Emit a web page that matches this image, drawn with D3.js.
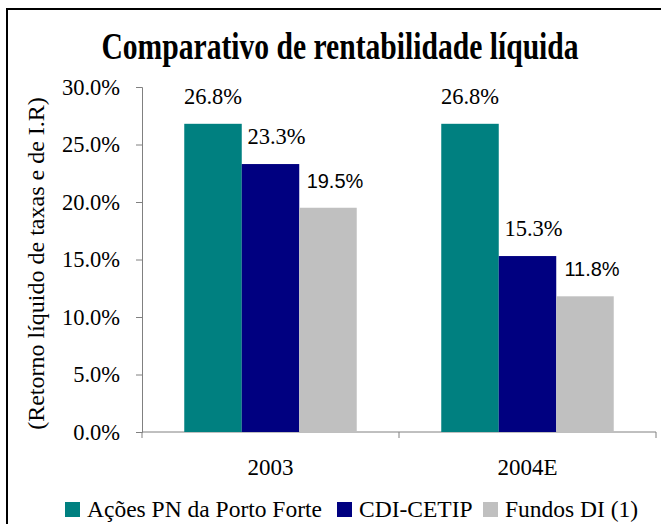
<!DOCTYPE html>
<html>
<head>
<meta charset="utf-8">
<script src="https://cdn.jsdelivr.net/npm/d3@7"></script>
<style>
  body { margin: 0; background: #fff; }
  svg { display: block; }
  svg text { font-family: "Liberation Serif", "Times New Roman", serif; }
  svg text.sans { font-family: "Liberation Sans", Arial, sans-serif; }
</style>
</head>
<body>
<div id="chart-container"></div>
<script>
// categories (x axis), series and values (in %)
const categories = ["2003", "2004E"];
const seriesNames = ["Ações PN da Porto Forte", "CDI-CETIP", "Fundos DI (1)"];
const acoesValues = [26.8, 26.8];
const cdiValues = [23.3, 15.3];
const fundosValues = [19.5, 11.8];
const yTicks = [0, 5, 10, 15, 20, 25, 30];

const seriesValues = [acoesValues, cdiValues, fundosValues];
const colors = ["#008080", "#000080", "#c0c0c0"];
// label styling per series (the source chart mixes fonts)
const labelSans = [false, false, true];
const labelSizes = ["22.5px", "22.5px", "20px"];
const labelDx = [0, 6, 7];

const W = 661, H = 524;
const plot = { left: 142, right: 656, top: 87, bottom: 432 };

const svg = d3
  .select("#chart-container")
  .append("svg")
  .attr("width", W)
  .attr("height", H);

// chart frame (only top & left edges visible in crop)
svg
  .append("rect")
  .attr("x", 7)
  .attr("y", 9)
  .attr("width", W + 20)
  .attr("height", H + 20)
  .attr("fill", "none")
  .attr("stroke", "#000")
  .attr("stroke-width", 2);

// title is drawn tall and condensed in the source
svg
  .append("text")
  .attr("transform", "translate(340,59)scale(0.8,1)")
  .attr("text-anchor", "middle")
  .style("font-weight", "bold")
  .style("font-size", "37px")
  .text("Comparativo de rentabilidade líquida");

const yScale = d3.scaleLinear().domain([0, 30]).range([plot.bottom, plot.top]);
const xScale = d3
  .scaleBand()
  .domain(categories)
  .range([plot.left, plot.right])
  .padding(0);
const xInner = d3
  .scaleBand()
  .domain(d3.range(seriesNames.length))
  .range([0, xScale.bandwidth()])
  .paddingInner(0)
  .paddingOuter(0.735);

// y axis
const yAxis = svg
  .append("g")
  .attr("transform", `translate(${plot.left},0)`)
  .call(
    d3
      .axisLeft(yScale)
      .tickValues(yTicks)
      .tickSize(6)
      .tickPadding(16)
      .tickFormat(d => d.toFixed(1) + "%")
  );
yAxis.attr("font-family", null).attr("font-size", null);
yAxis.select(".domain").attr("stroke", "#808080");
yAxis.selectAll(".tick line").attr("stroke", "#808080");
yAxis
  .selectAll(".tick text")
  .style("font-size", "22.5px")
  .attr("fill", "#000");

// x axis: ticks at category boundaries
const xAxisG = svg.append("g").attr("transform", `translate(0,${plot.bottom})`);
xAxisG
  .append("line")
  .attr("x1", plot.left)
  .attr("x2", plot.right)
  .attr("stroke", "#808080");
const boundaries = categories.map(c => xScale(c)).concat([plot.right]);
xAxisG
  .selectAll(".xtick")
  .data(boundaries)
  .enter()
  .append("line")
  .attr("x1", d => d)
  .attr("x2", d => d)
  .attr("y1", 0)
  .attr("y2", 6)
  .attr("stroke", "#808080");
xAxisG
  .selectAll(".xlabel")
  .data(categories)
  .enter()
  .append("text")
  .attr("x", d => xScale(d) + xScale.bandwidth() / 2)
  .attr("y", 43)
  .attr("text-anchor", "middle")
  .style("font-size", "23px")
  .text(d => d);

// y axis title
svg
  .append("text")
  .attr("transform", `translate(44,${(plot.top + plot.bottom) / 2 + 4})rotate(-90)`)
  .attr("text-anchor", "middle")
  .style("font-size", "24px")
  .text("(Retorno líquido de taxas e de I.R)");

// bars
const barData = [];
categories.forEach((c, ci) => {
  seriesValues.forEach((vals, si) => {
    barData.push({ cat: c, s: si, v: vals[ci] });
  });
});

svg
  .append("g")
  .selectAll("rect")
  .data(barData)
  .enter()
  .append("rect")
  .attr("x", d => xScale(d.cat) + xInner(d.s))
  .attr("y", d => yScale(d.v))
  .attr("width", xInner.bandwidth())
  .attr("height", d => yScale(0) - yScale(d.v))
  .attr("fill", d => colors[d.s]);

svg
  .append("g")
  .selectAll("text")
  .data(barData)
  .enter()
  .append("text")
  .attr("class", d => (labelSans[d.s] ? "sans" : null))
  .attr("x", d => xScale(d.cat) + xInner(d.s) + xInner.bandwidth() / 2 + labelDx[d.s])
  .attr("y", d => yScale(d.v) - 20)
  .attr("text-anchor", "middle")
  .style("font-size", d => labelSizes[d.s])
  .text(d => d.v.toFixed(1) + "%");

// legend
const legendX = [65, 337, 483];
const legend = svg
  .append("g")
  .selectAll("g")
  .data(seriesNames)
  .enter()
  .append("g")
  .attr("transform", (d, i) => `translate(${legendX[i]},502)`);
legend
  .append("rect")
  .attr("width", 15)
  .attr("height", 15)
  .attr("fill", (d, i) => colors[i]);
legend
  .append("text")
  .attr("x", 22)
  .attr("y", 15)
  .style("font-size", "23.5px")
  .text(d => d);
</script>
</body>
</html>
